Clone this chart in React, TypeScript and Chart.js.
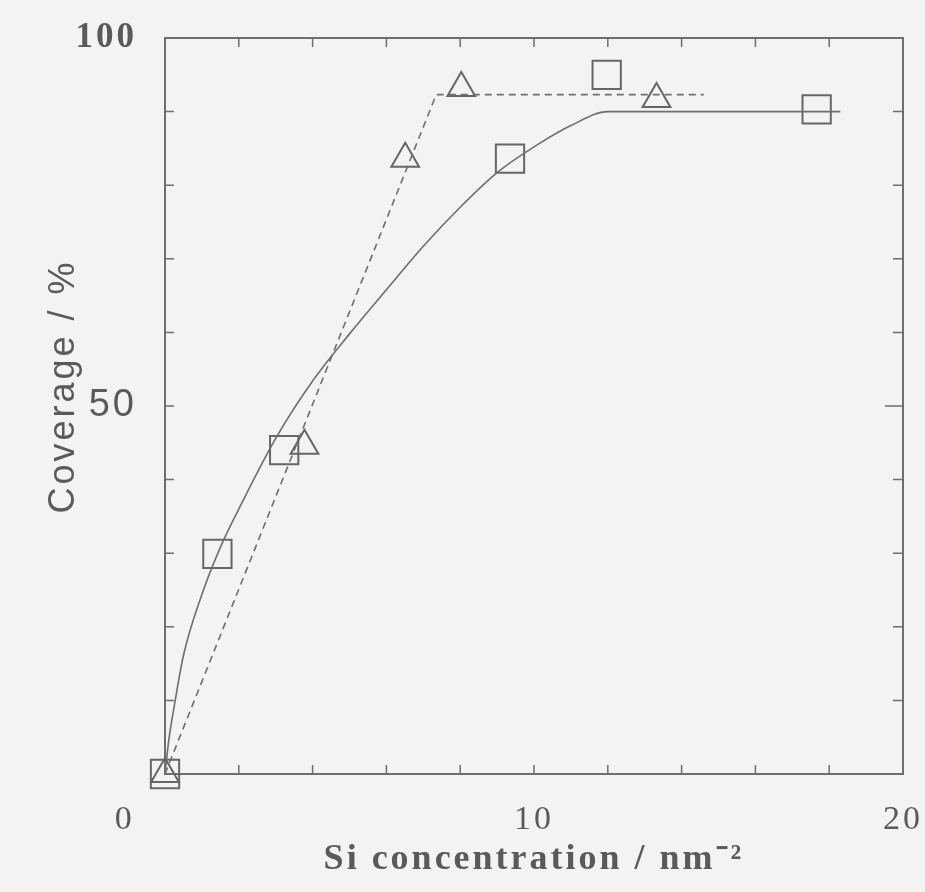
import React, { useEffect, useRef } from 'react';
import { Chart, registerables } from 'chart.js';

Chart.register(...registerables);

// Measured points (open squares)
const squareX = [0, 1.42, 3.23, 9.35, 11.97, 17.66];
const squareY = [0, 29.9, 44.0, 83.6, 95.0, 90.3];

// Measured points (open triangles)
const triangleX = [0, 3.78, 6.51, 8.03, 13.32];
const triangleY = [0, 44.6, 83.6, 93.2, 91.7];

// Solid fitted curve
const solidX = [0, 0.1, 0.25, 0.5, 1, 1.5, 2, 3, 4, 5, 6, 7, 8, 9, 10, 11, 12, 18.3];
const solidY = [0, 4.5, 9.2, 16.1, 24.4, 30.8, 36.0, 45.6, 53.4, 59.8, 65.8, 71.7, 77.0, 81.7, 85.2, 88.1, 90.0, 90.0];

// Dashed fitted line
const dashX = [0, 7.35, 14.6];
const dashY = [0, 92.3, 92.3];

// Axis ticks
const xLabelValues = [0, 10, 20];
const yLabelValues = [50, 100];
const xMinorTicks = [2, 4, 6, 8, 10, 12, 14, 16, 18];
const yMinorTicks = [10, 20, 30, 40, 50, 60, 70, 80, 90];

const xTitle = 'Si concentration / nm\u207B\u00B2';
const yTitle = '   Coverage / %';

const BG = '#f4f3f4';
const INK = '#5a5a5a';
const LINE = '#6e6e6e';

const toPts = (xs: number[], ys: number[]) => xs.map((x, i) => ({ x, y: ys[i] }));

const framePlugin = {
  id: 'frame',
  beforeDraw(chart: any) {
    const { ctx, width, height } = chart;
    ctx.save();
    ctx.fillStyle = BG;
    ctx.fillRect(0, 0, width, height);
    ctx.restore();
    (ctx as any).letterSpacing = '3px';
  },
  beforeDatasetsDraw(chart: any) {
    const { ctx, chartArea, scales } = chart;
    (ctx as any).letterSpacing = '0px';
    const { left, right, top, bottom } = chartArea;
    const xs = scales.x;
    const ys = scales.y;
    ctx.save();
    ctx.strokeStyle = LINE;
    ctx.lineWidth = 2;
    ctx.strokeRect(left, top, right - left, bottom - top);
    ctx.lineWidth = 1.5;
    ctx.beginPath();
    for (const v of xMinorTicks) {
      const px = xs.getPixelForValue(v);
      ctx.moveTo(px, bottom);
      ctx.lineTo(px, bottom - 9);
      ctx.moveTo(px, top);
      ctx.lineTo(px, top + 9);
    }
    for (const v of yMinorTicks) {
      const py = ys.getPixelForValue(v);
      ctx.moveTo(left, py);
      ctx.lineTo(left + 9, py);
      const len = v === 50 ? 18 : 10;
      ctx.moveTo(right, py);
      ctx.lineTo(right - len, py);
    }
    ctx.stroke();
    ctx.restore();
  },
};

export default function App() {
  const ref = useRef<HTMLCanvasElement | null>(null);

  useEffect(() => {
    if (!ref.current) return;
    const chart = new Chart(ref.current, {
      type: 'scatter',
      data: {
        datasets: [
          {
            label: 'fit solid',
            data: toPts(solidX, solidY),
            showLine: true,
            borderColor: LINE,
            borderWidth: 1.6,
            pointRadius: 0,
            cubicInterpolationMode: 'monotone',
            fill: false,
          } as any,
          {
            label: 'fit dashed',
            data: toPts(dashX, dashY),
            showLine: true,
            borderColor: LINE,
            borderWidth: 1.6,
            borderDash: [7, 5],
            pointRadius: 0,
            tension: 0,
            fill: false,
          } as any,
          {
            label: 'squares',
            data: toPts(squareX, squareY),
            showLine: false,
            pointStyle: 'rect',
            pointRadius: 20,
            pointBorderWidth: 2,
            pointBorderColor: '#666',
            pointBackgroundColor: 'rgba(0,0,0,0)',
            clip: false,
          } as any,
          {
            label: 'triangles',
            data: toPts(triangleX, triangleY),
            showLine: false,
            pointStyle: 'triangle',
            pointRadius: 16,
            pointBorderWidth: 2,
            pointBorderColor: '#666',
            pointBackgroundColor: 'rgba(0,0,0,0)',
            clip: false,
          } as any,
        ],
      },
      plugins: [framePlugin],
      options: {
        animation: false,
        responsive: false,
        events: [],
        layout: { padding: { left: 0, right: 19, top: 38, bottom: 0 } },
        plugins: { legend: { display: false }, tooltip: { enabled: false } },
        scales: {
          x: {
            type: 'linear',
            min: 0,
            max: 20,
            afterFit: (s: any) => {
              s.height = 118;
              s.paddingLeft = 0;
              s.paddingRight = 0;
            },
            afterBuildTicks: (s: any) => { s.ticks = xLabelValues.map((v) => ({ value: v })); },
            grid: { display: false, drawTicks: false },
            border: { display: false },
            ticks: {
              autoSkip: false,
              maxRotation: 0,
              padding: 26,
              color: INK,
              font: { family: '"Liberation Serif", serif', size: 34 },
              callback: (v: any) => (v === 0 ? '0       ' : String(v)),
            },
            title: {
              display: true,
              text: xTitle,
              color: INK,
              font: { family: '"Liberation Serif", serif', size: 36, weight: 'bold' },
              padding: { top: 0, bottom: 11 },
            },
          },
          y: {
            type: 'linear',
            min: 0,
            max: 100,
            afterFit: (s: any) => {
              s.width = 165;
              s.paddingTop = 0;
              s.paddingBottom = 0;
            },
            afterBuildTicks: (s: any) => { s.ticks = yLabelValues.map((v) => ({ value: v })); },
            grid: { display: false, drawTicks: false },
            border: { display: false },
            ticks: {
              autoSkip: false,
              padding: 28,
              color: INK,
              font: (ctx: any) =>
                ctx.tick && ctx.tick.value === 100
                  ? { family: '"Liberation Serif", serif', size: 35, weight: 'bold' }
                  : { family: '"Liberation Sans", sans-serif', size: 38 },
              callback: (v: any) => String(v),
            },
            title: {
              display: true,
              text: yTitle,
              color: INK,
              font: { family: '"Liberation Sans", sans-serif', size: 36 },
              padding: { top: 42, bottom: 0 },
            },
          },
        },
      } as any,
    });
    return () => chart.destroy();
  }, []);

  return (
    <div style={{ position: 'fixed', left: 0, top: 0, width: 925, height: 892, background: BG }}>
      <canvas ref={ref} width={925} height={892} style={{ width: 925, height: 892, display: 'block' }} />
    </div>
  );
}
